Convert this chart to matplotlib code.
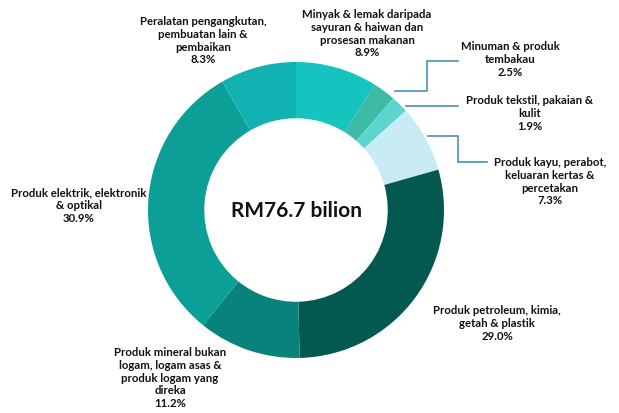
import matplotlib
matplotlib.use("Agg")
import matplotlib.pyplot as plt

categories = [
    "Minyak & lemak daripada\nsayuran & haiwan dan\nprosesan makanan",
    "Minuman & produk\ntembakau",
    "Produk tekstil, pakaian &\nkulit",
    "Produk kayu, perabot,\nkeluaran kertas &\npercetakan",
    "Produk petroleum, kimia,\ngetah & plastik",
    "Produk mineral bukan\nlogam, logam asas &\nproduk logam yang\ndireka",
    "Produk elektrik, elektronik\n& optikal",
    "Peralatan pengangkutan,\npembuatan lain &\npembaikan",
]
shares = [8.9, 2.5, 1.9, 7.3, 29.0, 11.2, 30.9, 8.3]
colors = ["#16C4BF", "#3DBBA6", "#5CD5CC", "#C8EBF6",
          "#03594F", "#07837B", "#0B9F97", "#12B2B3"]
center_text = "RM76.7 bilion"

W, H = 619, 414
fig = plt.figure(figsize=(W / 100, H / 100), dpi=100)
ax = fig.add_axes([0, 0, 1, 1])

cx, cy = 296, H - 211
R = 148
ax.pie(shares, colors=colors, startangle=90, counterclock=False,
       center=(cx, cy), radius=R, frame=True,
       wedgeprops=dict(width=R * 0.38, linewidth=0))
ax.set_xlim(0, W)
ax.set_ylim(0, H)
ax.axis("off")

font = dict(family=["Lato", "DejaVu Sans"], fontweight="bold", fontsize=8.2,
            color="#111111", ha="center", va="top", linespacing=1.2)

# label anchor positions (x center, top y in image pixels)
label_pos = [(367, 9), (510, 41), (530, 95), (550, 157),
             (497, 305), (170, 347), (79, 187), (203, 16)]
for cat, val, (x, y) in zip(categories, shares, label_pos):
    ax.text(x, H - y, f"{cat}\n{val:.1f}%", **font)

ax.text(cx, cy, center_text, ha="center", va="center", fontsize=15,
        fontweight="bold", family=["Lato", "DejaVu Sans"], color="#111111")

lc = "#4A8FB8"
lines = [
    [(395, 92), (427, 92), (427, 62), (458, 62)],
    [(406, 107), (458, 107)],
    [(428, 137), (458, 137), (458, 163), (487, 163)],
]
for pts in lines:
    xs = [p[0] for p in pts]
    ys = [H - p[1] for p in pts]
    ax.plot(xs, ys, color=lc, lw=1.2)

fig.savefig("out.png", dpi=100)
